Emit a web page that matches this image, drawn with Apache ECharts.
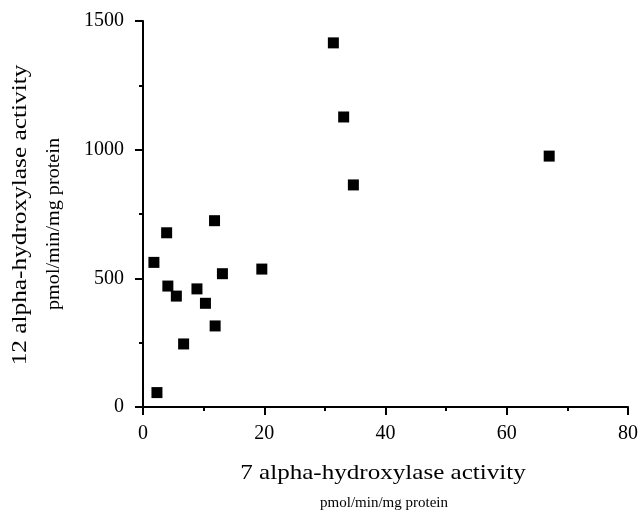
<!DOCTYPE html>
<html>
<head>
<meta charset="utf-8">
<script src="https://cdn.jsdelivr.net/npm/echarts@6/dist/echarts.min.js"></script>
<style>html,body{margin:0;padding:0;background:#fff}#c{width:642px;height:515px}</style>
</head>
<body>
<div id="c"></div>
<script>
var xValues = [31.4, 33.1, 34.7, 67.0, 1.8, 3.9, 11.8, 4.1, 5.5, 8.9, 10.3, 13.1, 19.6, 11.9, 6.7, 2.3];
var yValues = [1415, 1127, 863, 975, 562, 677, 724, 470, 431, 459, 403, 518, 536, 315, 245, 56];
var xTicks = [0, 20, 40, 60, 80];
var yTicks = [0, 500, 1000, 1500];
var xTitle = '7 alpha-hydroxylase activity';
var xSub = 'pmol/min/mg protein';
var yTitle = '12 alpha-hydroxylase activity';
var ySub = 'pmol/min/mg protein';

var points = xValues.map(function (x, i) { return [x, yValues[i]]; });
var serif = '"Liberation Serif", "DejaVu Serif", serif';
var chart = echarts.init(document.getElementById('c'));
function axisCommon() {
  return {
    axisLine: { show: true, lineStyle: { color: '#000', width: 2 } },
    axisTick: { show: true, inside: false, length: 8, lineStyle: { color: '#000', width: 2 } },
    minorTick: { show: true, splitNumber: 2, length: 4, lineStyle: { color: '#000', width: 2 } },
    splitLine: { show: false },
    axisLabel: { color: '#000', fontFamily: serif, fontSize: 20, formatter: function (v) { return String(v); } }
  };
}
var xa = axisCommon();
xa.type = 'value'; xa.min = xTicks[0]; xa.max = xTicks[xTicks.length - 1]; xa.interval = xTicks[1] - xTicks[0];
xa.axisLabel.margin = 17;
var ya = axisCommon();
ya.type = 'value'; ya.min = yTicks[0]; ya.max = yTicks[yTicks.length - 1]; ya.interval = yTicks[1] - yTicks[0];
ya.axisLabel.margin = 19;
chart.setOption({
  animation: false,
  grid: { left: 143, top: 21, width: 485, height: 386, containLabel: false },
  xAxis: xa,
  yAxis: ya,
  series: [{
    type: 'scatter',
    data: points,
    symbol: 'rect',
    symbolSize: 11,
    itemStyle: { color: '#000', opacity: 1 }
  }],
  graphic: [
    { type: 'text', x: 383, y: 473, scaleX: 1.14, style: { text: xTitle, font: '22px ' + serif, fill: '#000', align: 'center', verticalAlign: 'middle' } },
    { type: 'text', x: 384, y: 503, style: { text: xSub, font: '15px ' + serif, fill: '#000', align: 'center', verticalAlign: 'middle' } },
    { type: 'text', x: 20, y: 215, rotation: Math.PI / 2, scaleX: 1.15, style: { text: yTitle, font: '22px ' + serif, fill: '#000', align: 'center', verticalAlign: 'middle' } },
    { type: 'text', x: 54, y: 224, rotation: Math.PI / 2, scaleX: 1.12, style: { text: ySub, font: '18px ' + serif, fill: '#000', align: 'center', verticalAlign: 'middle' } }
  ]
});
</script>
</body>
</html>
